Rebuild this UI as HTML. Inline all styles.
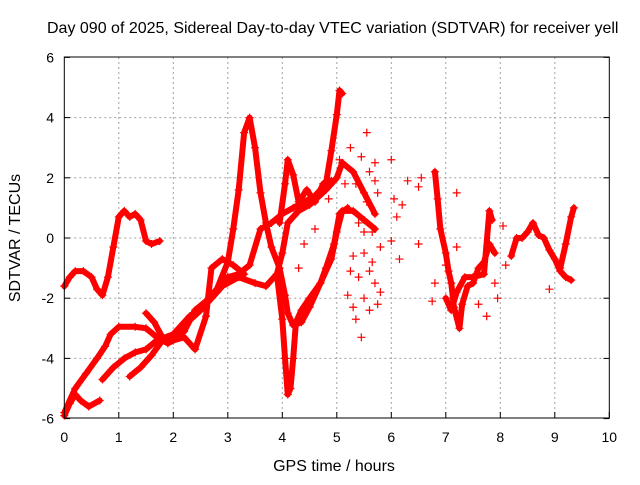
<!DOCTYPE html>
<html><head><meta charset="utf-8"><style>
body{margin:0;background:#fff;width:640px;height:480px;overflow:hidden}
text{font-family:"Liberation Sans",sans-serif;font-size:14px;fill:#000}
.big{font-size:16px}
</style></head><body>
<svg id="chart" width="640" height="480" xmlns="http://www.w3.org/2000/svg">
<text class="big" x="47" y="33">Day 090 of 2025, Sidereal Day-to-day VTEC variation (SDTVAR) for receiver yell</text>
<g id="grid"></g>
<g id="ticks"></g>
<g id="series"></g>
<rect x="64.3" y="57" width="545" height="361" fill="none" stroke="#000" stroke-width="1"/>
<text class="big" x="334" y="471" text-anchor="middle">GPS time / hours</text>
<text class="big" transform="translate(20,238) rotate(-90)" text-anchor="middle">SDTVAR / TECUs</text>
</svg>
<script>
const xTicks=[0,1,2,3,4,5,6,7,8,9,10];
const yTicks=[-6,-4,-2,0,2,4,6];
const s1=[[0,-1.6],[0.1,-1.3],[0.2,-1.1],[0.35,-1.1],[0.5,-1.3],[0.6,-1.7],[0.7,-1.9],[0.8,-1.3],[0.9,-0.3],[1.0,0.7],[1.1,0.9],[1.2,0.7],[1.3,0.8],[1.4,0.6],[1.5,-0.1],[1.6,-0.2],[1.75,-0.1]];
const s2=[[0,-5.9],[0.1,-5.5],[0.2,-5.2],[0.3,-5.4],[0.45,-5.6],[0.65,-5.4]];
const s3=[[0,-5.8],[0.2,-5.0],[0.4,-4.5],[0.6,-4.0],[0.75,-3.6],[0.85,-3.2],[1.0,-2.95],[1.3,-2.95],[1.5,-3.0],[1.7,-3.3],[1.9,-3.5],[2.0,-3.4],[2.2,-3.1],[2.4,-2.4],[2.6,-2.1],[2.8,-1.7],[3.0,-0.8],[3.1,0.3],[3.2,1.6],[3.3,3.5],[3.4,4.0],[3.5,3.0],[3.6,1.5],[3.7,0.5],[3.8,-0.3],[3.95,-1.0],[4.05,-1.9],[4.1,-2.5],[4.2,-2.9],[4.35,-2.8],[4.5,-2.3],[4.7,-1.5],[4.9,-0.7],[5.0,0.2],[5.1,0.9],[5.3,0.9],[5.5,0.6],[5.7,0.3]];
const s4=[[0.7,-4.7],[0.9,-4.3],[1.1,-4.0],[1.3,-3.8],[1.5,-3.7],[1.7,-3.4],[2.0,-3.2],[2.3,-2.6],[2.6,-2.2],[2.9,-1.6],[3.2,-1.3],[3.5,-1.5],[3.7,-1.6],[3.9,-1.2],[4.0,-0.5],[4.1,0.5],[4.3,0.9],[4.5,1.1],[4.8,1.6],[5.0,2.0],[5.1,2.5],[5.3,2.2],[5.5,1.5],[5.7,0.8]];
const s5=[[1.2,-4.6],[1.4,-4.3],[1.6,-3.9],[1.8,-3.4],[2.0,-3.2],[2.2,-2.9],[2.5,-2.4],[2.8,-1.8],[3.0,-1.3],[3.2,-1.2],[3.4,-0.9],[3.6,0.3],[3.8,0.5],[4.0,0.8],[4.2,1.0],[4.4,1.2],[4.6,1.4],[4.8,1.8],[4.9,2.9],[5.0,4.1],[5.05,4.9],[5.1,4.8]];
const s6=[[1.5,-2.5],[1.65,-2.8],[1.8,-3.3],[2.0,-3.4],[2.2,-3.3],[2.4,-3.7],[2.6,-2.6],[2.7,-1.0],[2.9,-0.7],[3.1,-0.9],[3.3,-1.2]];
const s7=[[3.9,-1.2],[4.0,-2.7],[4.05,-4.0],[4.1,-5.2],[4.15,-5.0],[4.2,-4.0],[4.25,-2.8],[4.35,-2.4],[4.5,-2.0],[4.7,-1.5],[4.8,-1.0],[4.95,-0.2],[5.05,0.8],[5.2,1.0]];
const s8=[[3.95,0.5],[4.05,1.8],[4.1,2.6],[4.2,2.1],[4.3,1.2],[4.45,1.6],[4.6,1.2],[4.75,1.8],[4.9,1.9]];
const s9=[[6.8,2.2],[6.85,1.3],[6.9,0.3],[7.0,-0.5],[7.05,-1.1],[7.1,-1.5],[7.15,-2.3],[7.25,-3.0],[7.3,-2.2],[7.4,-1.6],[7.5,-1.5],[7.6,-1.0],[7.7,-0.8],[7.8,-0.2],[7.9,-0.5]];
const s10=[[7.0,-2.0],[7.1,-2.4],[7.2,-1.8],[7.35,-1.3],[7.5,-1.3],[7.7,-1.2],[7.8,0.9],[7.85,0.6]];
const s11=[[8.2,-0.6],[8.3,0],[8.4,0],[8.5,0.2],[8.6,0.5],[8.7,0.1],[8.8,0],[8.9,-0.4],[9.0,-0.7],[9.1,-1.1],[9.2,-1.3],[9.3,-1.4]];
const s12=[[9.1,-1.0],[9.2,-0.2],[9.3,0.7],[9.35,1.0]];
const scatter=[[5.25,3.0],[5.45,2.7],[5.55,3.5],[5.6,2.2],[5.7,1.9],[5.75,1.5],[5.3,-0.6],[5.4,-1.3],[5.5,-2.0],[5.35,-2.7],[5.45,-3.3],[5.6,-2.4],[5.7,-1.5],[5.8,-0.3],[5.2,-1.9],[5.65,-0.8],[5.8,-1.8],[5.5,0.2],[5.3,-2.3],[5.75,-2.2],[6.0,2.6],[6.05,1.3],[6.1,0.7],[6.2,1.1],[6.3,1.9],[6.0,-0.1],[6.15,-0.7],[6.5,1.7],[6.5,-0.2],[6.55,2.0],[6.75,-2.1],[6.8,-1.5],[7.2,1.5],[7.2,-0.3],[7.6,-2.2],[7.9,-1.5],[7.95,-2.0],[8.1,-0.9],[8.05,0.4],[8.9,-1.7],[7.0,-0.9],[7.75,-2.6],[5.35,1.8],[5.55,1.2],[5.65,0.2],[5.4,0.5],[5.25,-1.1],[5.6,-1.1],[5.5,-0.5],[4.85,1.3],[4.6,0.3],[4.4,-0.2],[4.3,-1.0],[5.15,1.8],[5.7,2.5],[5.05,2.6]];
const allSeries=[s1,s2,s3,s4,s5,s6,s7,s8,s9,s10,s11,s12];
const NS='http://www.w3.org/2000/svg';
function X(t){return 64.3+t*54.5;}
function Y(v){return 238-v*30.1;}
function mk(tag,attrs,parent){const e=document.createElementNS(NS,tag);for(const k in attrs)e.setAttribute(k,attrs[k]);parent.appendChild(e);return e;}
const grid=document.getElementById('grid'),ticks=document.getElementById('ticks'),ser=document.getElementById('series');
xTicks.forEach(t=>{
  if(t>0&&t<10){const g=mk('line',{x1:X(t),x2:X(t),y1:57,y2:418,stroke:'#a0a0a0','stroke-dasharray':'2,3'},grid);
  
  }
  const tk=mk('line',{x1:X(t),x2:X(t),y1:418,y2:412,stroke:'#000'},ticks);
  
  
  const tl=mk('text',{x:X(t),y:442,'text-anchor':'middle'},ticks);tl.textContent=t;
  
  
});
yTicks.forEach(v=>{
  if(v>-6&&v<6){const g=mk('line',{x1:64.3,x2:609.3,y1:Y(v),y2:Y(v),stroke:'#a0a0a0','stroke-dasharray':'2,3'},grid);
  
  }
  const tk=mk('line',{x1:64.3,x2:70,y1:Y(v),y2:Y(v),stroke:'#000'},ticks);
  
  
  const tk2=mk('line',{x1:603.5,x2:609.3,y1:Y(v),y2:Y(v),stroke:'#000'},ticks);
  
  
  const tl=mk('text',{x:54,y:Y(v)+5,'text-anchor':'end'},ticks);tl.textContent=v;
  
  
});
function plus(t,v){const x=X(t),y=Y(v);
  const p=mk('path',{d:`M${x-4},${y}h8M${x},${y-4}v8`,stroke:'#f00','stroke-width':1.2,fill:'none'},ser);
  
  }
allSeries.forEach((s,i)=>{
  const pl=mk('polyline',{points:s.map(p=>X(p[0])+','+Y(p[1])).join(' '),fill:'none',stroke:'#f00','stroke-width':6,'stroke-linejoin':'round','stroke-linecap':'round'},ser);
  
  
  s.forEach(p=>plus(p[0],p[1]));
});
scatter.forEach(p=>plus(p[0],p[1]));
</script>
</body></html>
